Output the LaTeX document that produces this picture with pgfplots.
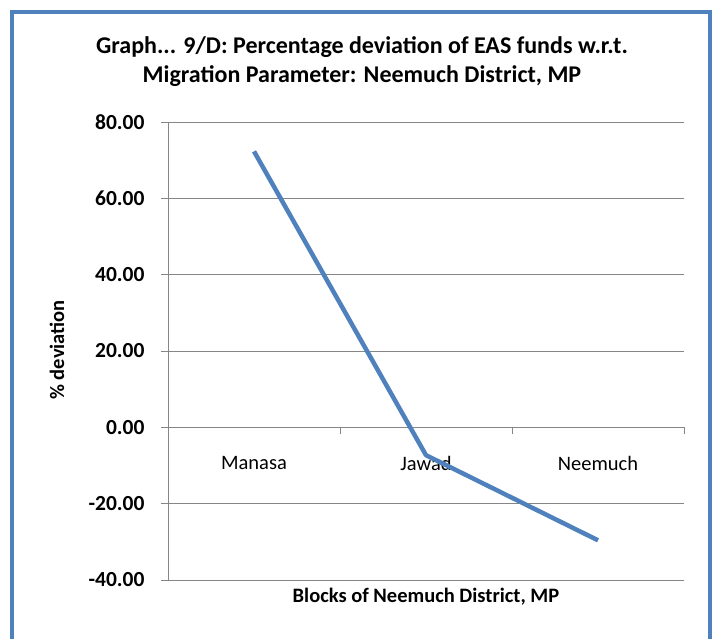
\documentclass[border=0pt]{standalone}
\usepackage{pgfplots}
\pgfplotsset{compat=1.18}
\usepackage{fontspec}
\setmainfont{Carlito}
\definecolor{xlblue}{RGB}{79,129,189}
\definecolor{gridgray}{RGB}{134,134,134}
\begin{document}
\begin{tikzpicture}[x=1pt,y=1pt]
\path[use as bounding box] (0,0) rectangle (717,638);
\draw[xlblue, line width=4.5pt] (12,-10) rectangle (710,626);
\node[align=center, font=\fontsize{24}{29}\selectfont\bfseries] at (362,576)
  {Graph... 9/D: Percentage deviation of EAS funds w.r.t.\\Migration Parameter: Neemuch District, MP};
\node[rotate=90, font=\fontsize{20.5}{22}\selectfont\bfseries] at (57,288) {\% deviation};
\node[font=\fontsize{20.5}{22}\selectfont\bfseries] at (426,41) {Blocks of Neemuch District, MP};
\begin{axis}[
    at={(168pt,58pt)}, anchor=south west,
    scale only axis, width=516pt, height=458pt,
    xmin=-0.5, xmax=2.5, ymin=-40, ymax=80,
    axis x line=middle, axis y line=left,
    axis line style={draw=gridgray, line width=0.9pt, -},
    xtick={0,1,2},
    xticklabels={Manasa,Jawad,Neemuch},
    x tick style={draw=none},
    x tick label style={font=\fontsize{20.5}{22}\selectfont, yshift=-18pt},
    extra x ticks={0.5,1.5,2.5},
    extra x tick labels={},
    extra x tick style={x tick style={draw=gridgray, line width=0.9pt}, tick align=outside},
    ytick={-40,-20,...,80},
    tick align=outside,
    major tick length=7pt,
    y tick style={draw=gridgray, line width=0.9pt},
    ymajorgrids,
    grid style={draw=gridgray, line width=0.9pt},
    yticklabel={\pgfmathprintnumber[fixed,fixed zerofill,precision=2]{\tick}},
    y tick label style={font=\fontsize{21.5}{24}\selectfont\bfseries, xshift=-13pt, /pgf/number format/assume math mode=true},
    clip=false,
]
\addplot[xlblue, line width=4.5pt, line join=round] coordinates {
(0, 72.3)
(1, -7.3)
(2, -29.6)
};
\end{axis}
\end{tikzpicture}
\end{document}
